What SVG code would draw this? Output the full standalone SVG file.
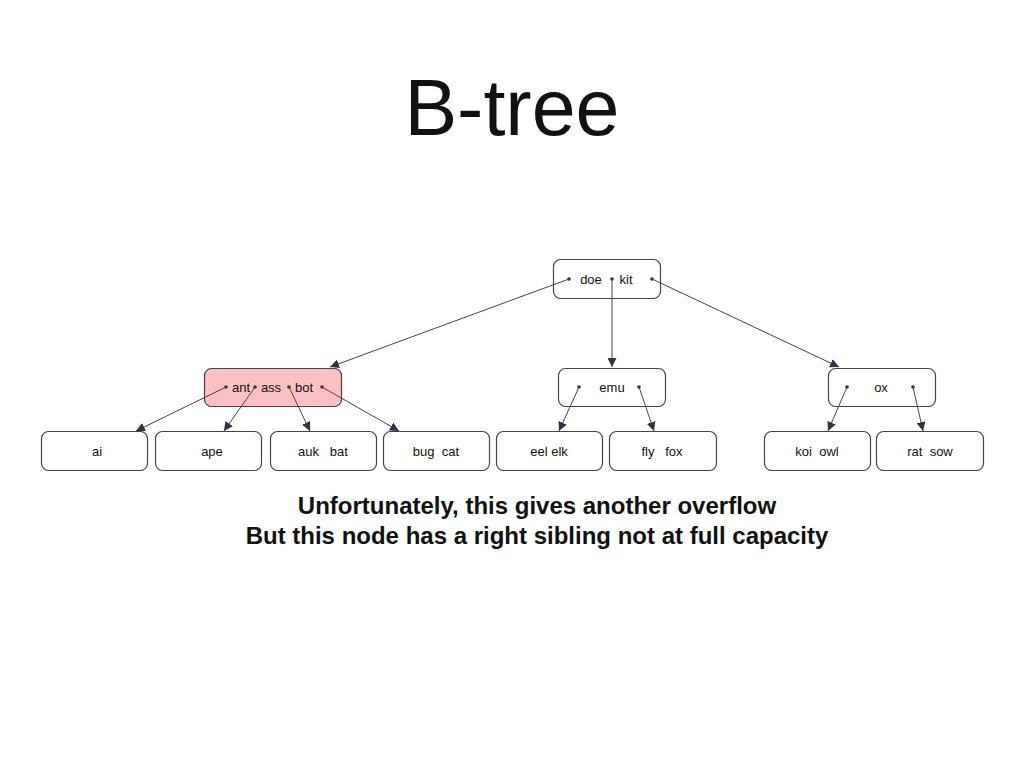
<svg xmlns="http://www.w3.org/2000/svg" width="1024" height="768" viewBox="0 0 1024 768">
<style>
.n{fill:#fff;stroke:#444;stroke-width:1.2}
.p{fill:#ffc0c4;stroke:#444;stroke-width:1.2}
.t{font-family:"Liberation Sans",Arial,sans-serif;font-size:13px;fill:#111;text-anchor:middle}
.d{fill:#333}
.c line{stroke:#444;stroke-width:1}
.b{font-family:"Liberation Sans",Arial,sans-serif;font-size:24px;font-weight:bold;fill:#111;text-anchor:middle}
</style>
<defs>
<marker id="a" viewBox="0 0 10 10" refX="10" refY="5" markerWidth="9" markerHeight="9" markerUnits="userSpaceOnUse" orient="auto">
<path d="M0,0 L10,5 L0,10 Z" fill="#2e3147"/>
</marker>
</defs>
<rect width="1024" height="768" fill="#fff"/>
<text x="512" y="135" font-family="Liberation Sans,Arial,sans-serif" font-size="79" text-anchor="middle" fill="#111">B-tree</text>

<g id="root">
<rect class="n" x="553.5" y="259.5" width="107" height="39" rx="7"/>
<text class="t" x="591" y="284">doe</text>
<text class="t" x="626" y="284">kit</text>
<circle class="d" cx="569" cy="279" r="1.8"/><circle class="d" cx="612" cy="279" r="1.8"/><circle class="d" cx="652" cy="279" r="1.8"/>
</g>

<g id="n-ant">
<rect class="p" x="204.5" y="368.5" width="137" height="38" rx="7"/>
<text class="t" x="241" y="392">ant</text>
<text class="t" x="271" y="392">ass</text>
<text class="t" x="304" y="392">bot</text>
<circle class="d" cx="226" cy="387" r="1.8"/><circle class="d" cx="255" cy="387" r="1.8"/><circle class="d" cx="289" cy="387" r="1.8"/><circle class="d" cx="322" cy="387" r="1.8"/>
</g>

<g id="n-emu">
<rect class="n" x="558.5" y="368.5" width="107" height="38" rx="7"/>
<text class="t" x="612" y="392">emu</text>
<circle class="d" cx="579" cy="387" r="1.8"/><circle class="d" cx="639" cy="387" r="1.8"/>
</g>

<g id="n-ox">
<rect class="n" x="828.5" y="368.5" width="107" height="38" rx="7"/>
<text class="t" x="881" y="392">ox</text>
<circle class="d" cx="847" cy="387" r="1.8"/><circle class="d" cx="913" cy="387" r="1.8"/>
</g>

<g id="l-ai"><rect class="n" x="41.5" y="431.5" width="106" height="39" rx="7"/><text class="t" x="97" y="456">ai</text></g>
<g id="l-ape"><rect class="n" x="155.5" y="431.5" width="106" height="39" rx="7"/><text class="t" x="212" y="456">ape</text></g>
<g id="l-auk"><rect class="n" x="270.5" y="431.5" width="106" height="39" rx="7"/><text class="t" x="323" y="456" xml:space="preserve">auk   bat</text></g>
<g id="l-bug"><rect class="n" x="383.5" y="431.5" width="106" height="39" rx="7"/><text class="t" x="436" y="456" xml:space="preserve">bug  cat</text></g>
<g id="l-eel"><rect class="n" x="496.5" y="431.5" width="106" height="39" rx="7"/><text class="t" x="549" y="456">eel elk</text></g>
<g id="l-fly"><rect class="n" x="609.5" y="431.5" width="107" height="39" rx="7"/><text class="t" x="662" y="456" xml:space="preserve">fly   fox</text></g>
<g id="l-koi"><rect class="n" x="764.5" y="431.5" width="106" height="39" rx="7"/><text class="t" x="817" y="456" xml:space="preserve">koi  owl</text></g>
<g id="l-rat"><rect class="n" x="876.5" y="431.5" width="107" height="39" rx="7"/><text class="t" x="930" y="456" xml:space="preserve">rat  sow</text></g>

<g class="c">
<line x1="569" y1="279" x2="330" y2="367" marker-end="url(#a)"/>
<line x1="612" y1="279" x2="612" y2="367" marker-end="url(#a)"/>
<line x1="652" y1="279" x2="839" y2="367" marker-end="url(#a)"/>
<line x1="226" y1="387" x2="136" y2="431" marker-end="url(#a)"/>
<line x1="255" y1="387" x2="224" y2="431" marker-end="url(#a)"/>
<line x1="289" y1="387" x2="310" y2="431" marker-end="url(#a)"/>
<line x1="322" y1="387" x2="399" y2="431" marker-end="url(#a)"/>
<line x1="579" y1="387" x2="559" y2="431" marker-end="url(#a)"/>
<line x1="639" y1="387" x2="654" y2="431" marker-end="url(#a)"/>
<line x1="847" y1="387" x2="828" y2="431" marker-end="url(#a)"/>
<line x1="913" y1="387" x2="923" y2="431" marker-end="url(#a)"/>
</g>

<text class="b" x="537" y="514">Unfortunately, this gives another overflow</text>
<text class="b" x="537" y="544">But this node has a right sibling not at full capacity</text>
</svg>
